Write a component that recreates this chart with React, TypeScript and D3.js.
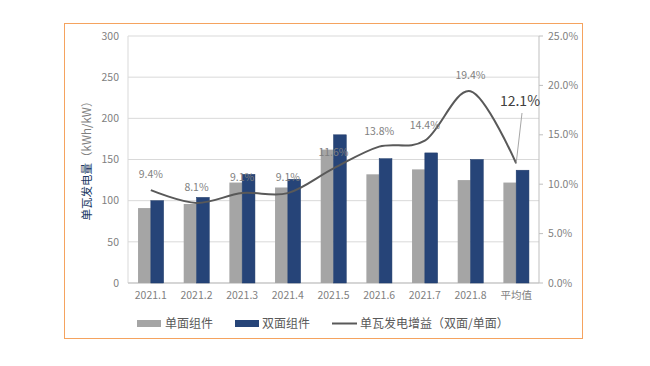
import React from "react";
import * as d3 from "d3";

const categories = ["2021.1", "2021.2", "2021.3", "2021.4", "2021.5", "2021.6", "2021.7", "2021.8", "平均值"];
const singleValues = [91, 96, 122, 116, 162, 132, 138, 125, 122];
const doubleValues = [100, 104, 132, 126, 180, 151, 158, 150, 137];
const gainValues = [9.4, 8.1, 9.1, 9.1, 11.6, 13.8, 14.4, 19.4, 12.1];
const leftTicks = [0, 50, 100, 150, 200, 250, 300];
const rightTicks = [0, 5, 10, 15, 20, 25];

const font = "'Noto Sans CJK SC', 'Noto Sans', sans-serif";

const App = () => {
  const width = 650;
  const height = 366;
  const plot = { left: 128, right: 539, top: 36, bottom: 283 };

  const x = d3.scaleBand().domain(categories).range([plot.left, plot.right]);
  const yLeft = d3.scaleLinear().domain([0, 300]).range([plot.bottom, plot.top]);
  const yRight = d3.scaleLinear().domain([0, 25]).range([plot.bottom, plot.top]);

  const bw = x.bandwidth() * 0.28;
  const cx = (c: string) => (x(c) as number) + x.bandwidth() / 2;

  // smoothed line like excel
  const line = d3
    .line<number>()
    .x((_, i) => cx(categories[i]))
    .y((d) => yRight(d))
    .curve(d3.curveCardinal.tension(0));

  const last = categories.length - 1;

  return (
    <svg width={width} height={height} style={{ position: "absolute", left: 0, top: 0 }} fontFamily={font}>
      <rect x={0} y={0} width={width} height={height} fill="#fff" />
      <rect x={64.5} y={23.5} width={518} height={315} fill="none" stroke="#f5a35f" strokeWidth={1} />

      {/* gridlines */}
      {leftTicks.map((t) => (
        <line key={t} x1={plot.left} x2={plot.right} y1={yLeft(t)} y2={yLeft(t)} stroke="#d9d9d9" />
      ))}
      <line x1={plot.left} x2={plot.left} y1={plot.top} y2={plot.bottom} stroke="#d9d9d9" />
      <line x1={plot.right} x2={plot.right} y1={plot.top} y2={plot.bottom} stroke="#bfbfbf" />
      <line x1={plot.left} x2={plot.right} y1={plot.bottom} y2={plot.bottom} stroke="#bfbfbf" />

      {/* left ticks */}
      {leftTicks.map((t) => (
        <text key={t} x={119} y={yLeft(t)} dy="0.35em" textAnchor="end" fontSize={10.5} fill="#7f7f7f">
          {t}
        </text>
      ))}
      {/* right ticks */}
      {rightTicks.map((t) => (
        <g key={t}>
          <line x1={plot.right} x2={plot.right + 4} y1={yRight(t)} y2={yRight(t)} stroke="#bfbfbf" />
          <text x={548} y={yRight(t)} dy="0.35em" fontSize={10.5} fill="#7f7f7f">
            {t.toFixed(1)}%
          </text>
        </g>
      ))}

      {/* bars */}
      {categories.map((c, i) => (
        <g key={c}>
          <rect x={cx(c) - bw} y={yLeft(singleValues[i])} width={bw} height={plot.bottom - yLeft(singleValues[i])} fill="#a5a5a5" />
          <rect x={cx(c)} y={yLeft(doubleValues[i])} width={bw} height={plot.bottom - yLeft(doubleValues[i])} fill="#264478" stroke="#1f3a68" strokeWidth={0.5} />
          <text x={cx(c)} y={299} textAnchor="middle" fontSize={10.5} fill="#7f7f7f">
            {c}
          </text>
        </g>
      ))}

      {/* gain line */}
      <path d={line(gainValues) || ""} fill="none" stroke="#595959" strokeWidth={2} />
      {gainValues.map((v, i) =>
        i === last ? null : (
          <text key={i} x={cx(categories[i])} y={yRight(v) - 12} textAnchor="middle" fontSize={10.5} fill="#7f7f7f">
            {v.toFixed(1)}%
          </text>
        )
      )}
      <line x1={522} y1={113} x2={cx(categories[last])} y2={yRight(gainValues[last])} stroke="#a6a6a6" strokeWidth={1} />
      <text x={520} y={106} textAnchor="middle" fontSize={14} fill="#404040">
        {gainValues[last].toFixed(1)}%
      </text>

      {/* y title */}
      <text transform="translate(91,158) rotate(-90)" textAnchor="middle" fontSize={11.5}>
        <tspan fill="#203864">单瓦发电量</tspan>
        <tspan fill="#7f7f7f">（kWh/kW）</tspan>
      </text>

      {/* legend */}
      <rect x={137} y={320} width={24} height={7} fill="#a5a5a5" />
      <text x={165} y={323.5} dy="0.35em" fontSize={12} fill="#595959">单面组件</text>
      <rect x={235} y={320} width={24} height={7} fill="#264478" />
      <text x={262} y={323.5} dy="0.35em" fontSize={12} fill="#595959">双面组件</text>
      <line x1={332} x2={357} y1={323.5} y2={323.5} stroke="#595959" strokeWidth={2} />
      <text x={360} y={323.5} dy="0.35em" fontSize={12} fill="#595959">单瓦发电增益（双面/单面）</text>
    </svg>
  );
};

export default App;
